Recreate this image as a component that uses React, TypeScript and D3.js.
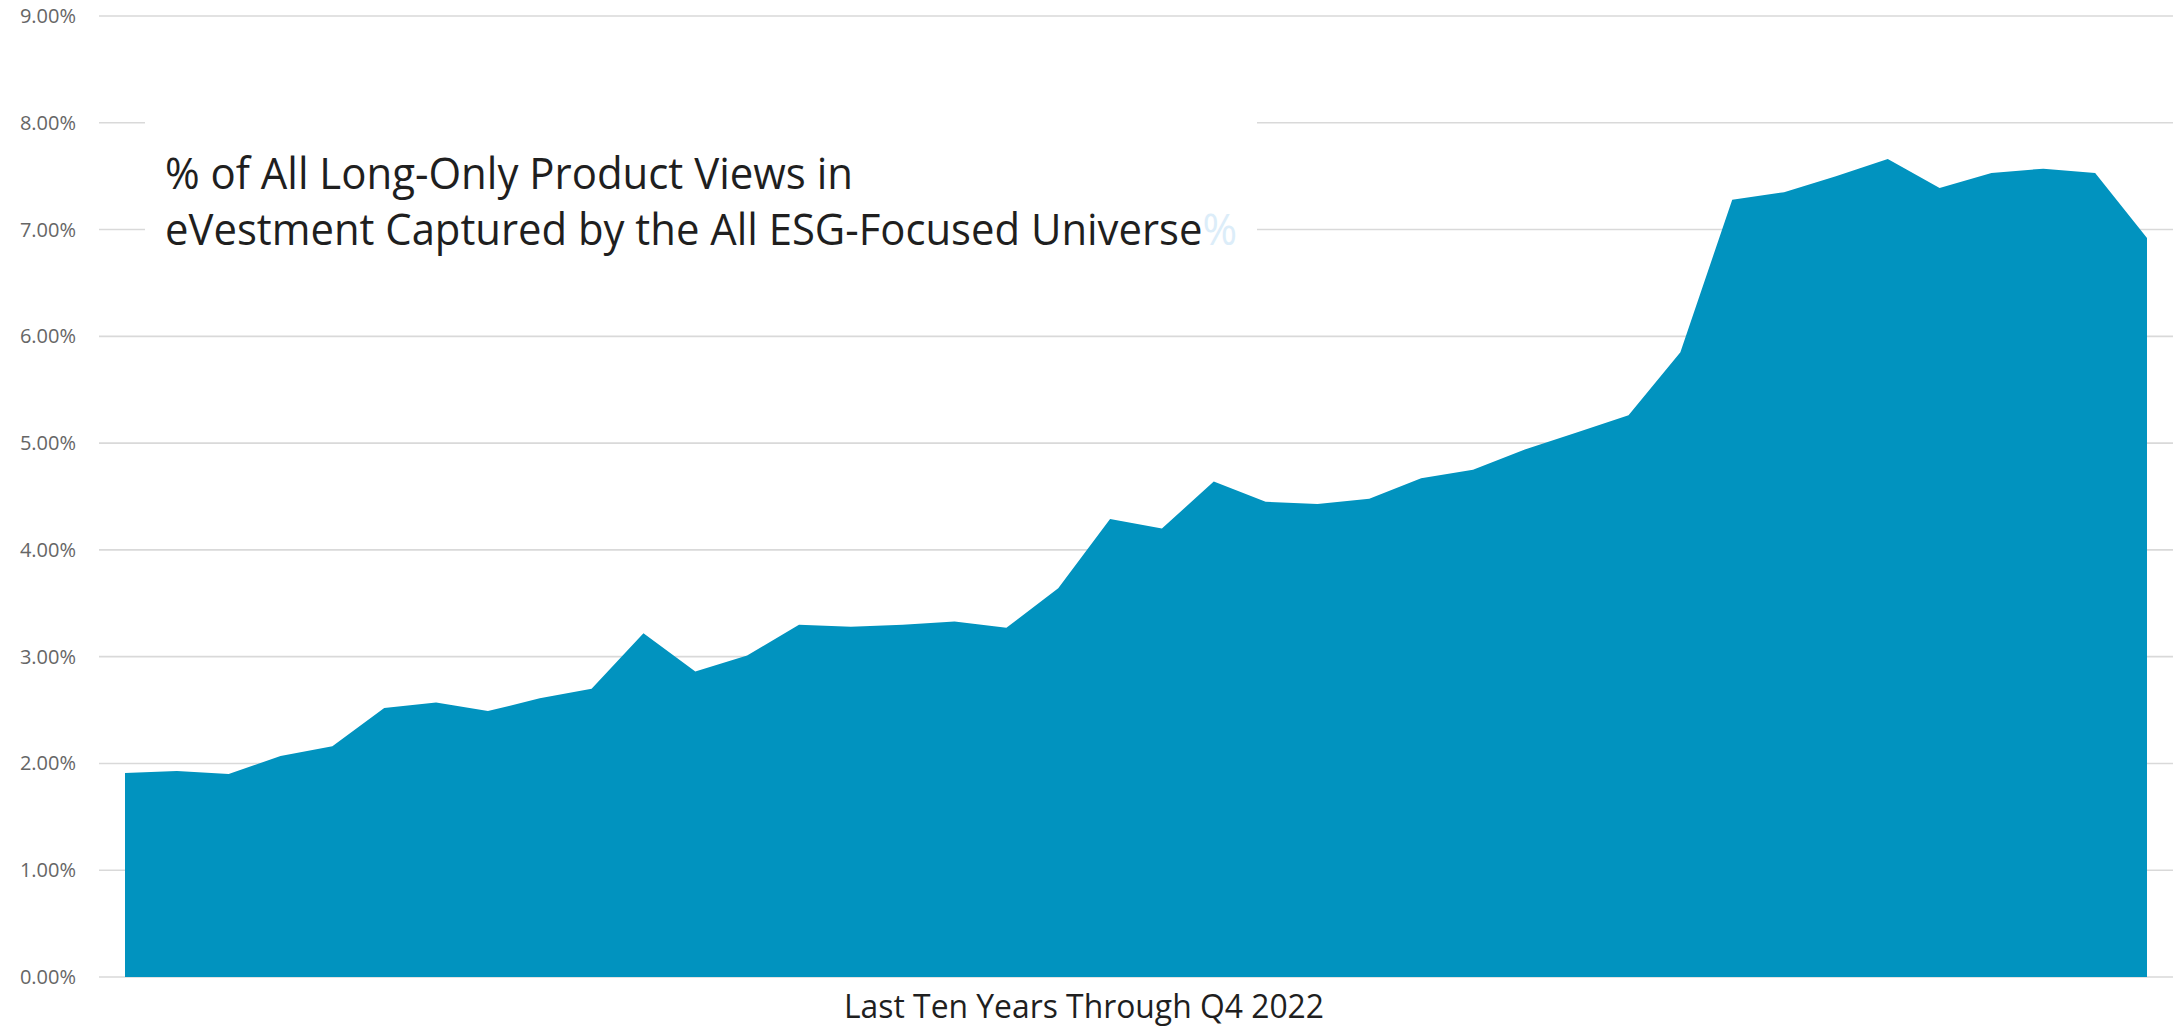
import React from "react";
import * as d3 from "d3";

// quarterly share (%) of long-only product views, last ten years through Q4 2022
const quarters = d3.range(40).map((i) => `Q${(i % 4) + 1} ${2013 + Math.floor(i / 4)}`);
const shareValues = [
  1.91, 1.93, 1.90, 2.07, 2.16, 2.52, 2.57, 2.49, 2.61, 2.70,
  3.22, 2.86, 3.01, 3.30, 3.28, 3.30, 3.33, 3.27, 3.64, 4.29,
  4.20, 4.64, 4.45, 4.43, 4.48, 4.67, 4.75, 4.94, 5.10, 5.26,
  5.85, 7.28, 7.35, 7.50, 7.66, 7.39, 7.53, 7.57, 7.53, 6.92,
];
const yTicks = [0, 1, 2, 3, 4, 5, 6, 7, 8, 9];
const titleLines = [
  "% of All Long-Only Product Views in",
  "eVestment Captured by the All ESG-Focused Universe",
];
const xAxisTitle = "Last Ten Years Through Q4 2022";

const W = 2181;
const H = 1029;
const FONT = "'Open Sans', 'Noto Sans', sans-serif";

const App: React.FC = () => {
  const x = d3
    .scaleLinear()
    .domain([0, quarters.length - 1])
    .range([125, 2147]);
  const y = d3.scaleLinear().domain([0, 9]).range([977, 16]);

  const area = d3
    .area<number>()
    .x((d, i) => x(i))
    .y0(y(0))
    .y1((d) => y(d));

  return (
    <svg
      width={W}
      height={H}
      viewBox={`0 0 ${W} ${H}`}
      style={{ position: "absolute", left: 0, top: 0, display: "block", background: "#fff" }}
    >
      {/* gridlines and tick labels */}
      {yTicks.map((t) => (
        <g key={t}>
          <line x1={99} x2={2173} y1={y(t)} y2={y(t)} stroke="#d9d9d9" strokeWidth={1.6} />
          <text
            x={76}
            y={y(t)}
            dy="0.35em"
            textAnchor="end"
            fontFamily={FONT}
            fontSize={20}
            fill="#666666"
          >
            {d3.format(".2f")(t) + "%"}
          </text>
        </g>
      ))}

      <path d={area(shareValues) ?? ""} fill="#0193bf" />

      {/* title box */}
      <rect x={145} y={105} width={1112} height={160} fill="#fff" />
      <text x={165} y={189} fontFamily={FONT} fontSize={44} fill="#1f1f1f" textLength={688} lengthAdjust="spacingAndGlyphs">
        {titleLines[0]}
      </text>
      <text x={165} y={245} fontFamily={FONT} fontSize={44} fill="#1f1f1f" textLength={1072} lengthAdjust="spacingAndGlyphs">
        {titleLines[1]}
        <tspan fill="#dcedf9">%</tspan>
      </text>

      <text x={844} y={1018} fontFamily={FONT} fontSize={32} fill="#1f1f1f" textLength={480} lengthAdjust="spacingAndGlyphs">
        {xAxisTitle}
      </text>
    </svg>
  );
};

export default App;
